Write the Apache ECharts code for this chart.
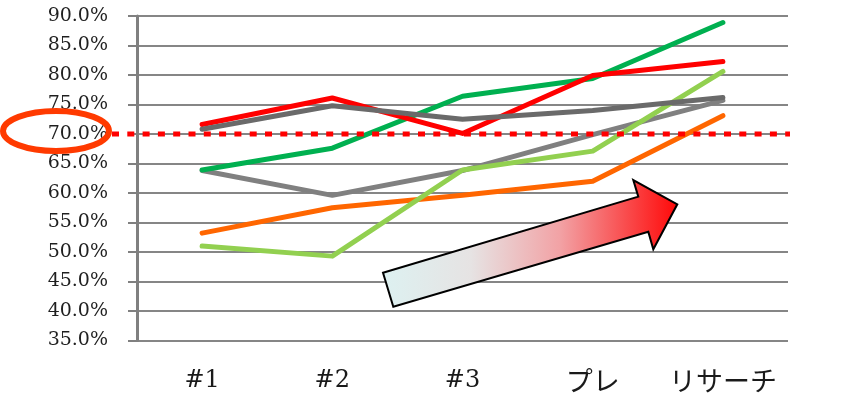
<!DOCTYPE html>
<html>
<head>
<meta charset="utf-8">
<script src="https://cdn.jsdelivr.net/npm/echarts@6/dist/echarts.min.js"></script>
<style>
  html, body { margin: 0; padding: 0; background: #fff; }
  #main { width: 846px; height: 394px; }
</style>
</head>
<body>
<div id="main"></div>
<script>
// カテゴリと各系列の値（%）
const categories = ['#1', '#2', '#3', 'プレ', 'リサーチ'];
const redLine = [71.6, 76.1, 70.1, 79.9, 82.3];
const darkGrayLine = [70.8, 74.8, 72.5, 74.0, 76.2];
const greenLine = [63.9, 67.6, 76.4, 79.4, 88.9];
const grayLine = [63.8, 59.6, 63.8, 69.9, 75.7];
const lightGreenLine = [51.0, 49.3, 63.9, 67.1, 80.6];
const orangeLine = [53.2, 57.5, 59.6, 62.0, 73.1];
const targetValue = 70;

const chart = echarts.init(document.getElementById('main'));

function lineSeries(name, data, color) {
    return {
        name: name,
        type: 'line',
        data: data,
        symbol: 'none',
        lineStyle: { color: color, width: 5, cap: 'round', join: 'round' },
        emphasis: { disabled: true }
    };
}

chart.setOption({
    animation: false,
    grid: { left: 137, right: 58, top: 16, bottom: 52 },
    xAxis: {
        type: 'category',
        data: categories,
        boundaryGap: true,
        axisLine: { show: false },
        axisTick: { show: false },
        axisLabel: {
            interval: 0,
            hideOverlap: false,
            margin: 26,
            color: '#1a1a1a',
            // 日本語のラベルは少し大きめに
            formatter: v => v.charAt(0) === '#' ? '{en|' + v + '}' : '{jp|' + v + '}',
            rich: {
                en: {
                    fontSize: 24,
                    lineHeight: 28,
                    color: '#1a1a1a',
                    fontFamily: "'DejaVu Serif', serif"
                },
                jp: {
                    fontSize: 27,
                    lineHeight: 28,
                    color: '#1a1a1a',
                    fontFamily: "'Noto Sans CJK JP', sans-serif"
                }
            }
        }
    },
    yAxis: {
        type: 'value',
        min: 35,
        max: 90,
        interval: 5,
        axisLine: { show: true, lineStyle: { color: '#808080', width: 3 } },
        axisTick: { show: true, inside: false, length: 9, lineStyle: { color: '#808080', width: 2 } },
        splitLine: { lineStyle: { color: '#868686', width: 2 } },
        axisLabel: {
            margin: 29,
            fontSize: 19,
            color: '#1f1f1f',
            fontFamily: "'DejaVu Serif', serif",
            formatter: v => v.toFixed(1) + '%'
        }
    },
    series: [
        lineSeries('灰', grayLine, '#808080'),
        lineSeries('橙', orangeLine, '#ff6600'),
        lineSeries('黄緑', lightGreenLine, '#92d050'),
        lineSeries('緑', greenLine, '#00b050'),
        lineSeries('赤', redLine, '#ff0000'),
        lineSeries('濃灰', darkGrayLine, '#6a6a6a')
    ]
});

// 70% の点線・丸囲み・矢印
const yTarget = chart.convertToPixel({ yAxisIndex: 0 }, targetValue);
chart.setOption({
    graphic: [
        {
            type: 'line',
            z: 100,
            shape: { x1: 112, y1: yTarget, x2: 790, y2: yTarget },
            style: { stroke: '#ff0000', lineWidth: 5, lineDash: [7, 8.3] }
        },
        {
            type: 'ellipse',
            z: 100,
            shape: { cx: 56, cy: yTarget - 3, rx: 53, ry: 20 },
            style: { fill: 'none', stroke: '#ff3a00', lineWidth: 6 }
        },
        {
            type: 'polygon',
            z: 100,
            shape: {
                points: [
                    [383, 272.7], [638.3, 196.7], [633.3, 180], [677.3, 204.3],
                    [653.3, 249.3], [648.3, 231.7], [393.3, 306.7]
                ]
            },
            style: {
                stroke: '#000',
                lineWidth: 2,
                fill: {
                    type: 'linear', x: 0, y: 0, x2: 1, y2: 0,
                    colorStops: [
                        { offset: 0, color: '#ddf1f1' },
                        { offset: 0.3, color: '#e6e3e3' },
                        { offset: 0.6, color: '#f2a2a5' },
                        { offset: 1, color: '#ff0808' }
                    ]
                }
            }
        }
    ]
});
</script>
</body>
</html>
